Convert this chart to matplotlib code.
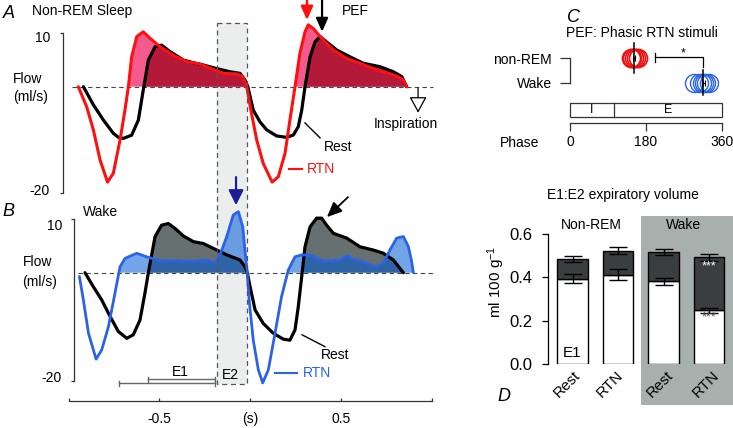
import numpy as np
import matplotlib
matplotlib.use('Agg')
import matplotlib.pyplot as plt
from matplotlib.patches import Rectangle
from matplotlib import transforms as mtrans

plt.rcParams['font.family'] = ['Liberation Sans', 'DejaVu Sans']
plt.rcParams['mathtext.default'] = 'regular'

W, H = 733, 428

# ---------------- data ----------------
# Panel A: non-REM sleep airflow (time s, flow ml/s)
a_rest_t = [-0.918, -0.863, -0.808, -0.753, -0.725, -0.698, -0.652, -0.615, -0.588, -0.56, -0.523, -0.487,
            -0.441, -0.367, -0.312, -0.257, -0.184, -0.11, -0.055, -0.028, -0.012, 0.018, 0.055, 0.092,
            0.147, 0.202, 0.239, 0.266, 0.285, 0.303, 0.331, 0.358, 0.386, 0.422, 0.477, 0.551, 0.624,
            0.716, 0.79, 0.836, 0.863]
a_rest_f = [0.0, -3.4, -6.25, -8.75, -9.5, -9.7, -9.1, -6.25, -0.6, 5.0, 7.5, 7.8,
            6.6, 5.0, 4.5, 4.07, 3.4, 2.8, 2.5, 1.25, 0.0, -4.4, -6.6, -8.1,
            -9.25, -9.5, -9.06, -7.5, -4.4, 0.0, 5.6, 8.4, 9.4, 8.4, 6.9, 5.6, 4.4,
            3.75, 2.8, 1.9, 0.0]
a_rtn_t = [-0.946, -0.9, -0.863, -0.826, -0.785, -0.753, -0.716, -0.689, -0.67, -0.652, -0.624, -0.588,
           -0.551, -0.496, -0.422, -0.349, -0.275, -0.202, -0.147, -0.073, -0.04, -0.018, 0.005, 0.037,
           0.073, 0.122, 0.156, 0.193, 0.22, 0.248, 0.275, 0.303, 0.321, 0.349, 0.395, 0.459, 0.533,
           0.606, 0.679, 0.753, 0.808, 0.845, 0.863]
a_rtn_f = [0.0, -3.75, -8.1, -13.75, -17.9, -16.25, -10.0, -4.4, 0.0, 5.6, 9.4, 10.3,
           9.1, 7.5, 5.9, 4.7, 4.25, 3.25, 2.5, 2.4, 1.9, 0.0, -4.4, -10.0,
           -14.4, -17.9, -16.9, -12.5, -6.25, 0.0, 6.25, 10.3, 11.6, 10.9, 9.1, 6.9, 5.3,
           4.4, 3.4, 2.6, 2.0, 1.25, 0.0]
# Panel B: wakefulness airflow
b_rest_t = [-0.909, -0.863, -0.817, -0.771, -0.725, -0.679, -0.643, -0.606, -0.579, -0.56, -0.523, -0.487,
            -0.45, -0.413, -0.367, -0.312, -0.257, -0.202, -0.128, -0.055, -0.028, -0.015, 0.0, 0.028,
            0.073, 0.128, 0.183, 0.22, 0.248, 0.266, 0.285, 0.303, 0.331, 0.367, 0.395, 0.422, 0.459,
            0.533, 0.606, 0.679, 0.735, 0.79, 0.826, 0.845]
b_rest_f = [0.0, -2.6, -5.05, -8.1, -10.9, -12.15, -11.5, -8.75, -3.8, 0.0, 6.7, 8.8,
            9.1, 8.2, 6.8, 5.75, 5.4, 4.5, 3.3, 2.35, 1.1, 0.0, -2.5, -6.9,
            -9.4, -11.2, -12.3, -12.5, -10.6, -6.3, -0.7, 4.8, 8.5, 10.1, 10.1, 8.8, 7.3,
            6.4, 4.8, 4.2, 3.6, 2.35, 0.8, 0.0]
b_rtn_t = [-0.94, -0.918, -0.89, -0.848, -0.817, -0.78, -0.744, -0.716, -0.689, -0.624, -0.57, -0.496,
           -0.404, -0.312, -0.239, -0.193, -0.165, -0.128, -0.092, -0.064, -0.04, -0.028, -0.015, -0.005,
           0.018, 0.046, 0.07, 0.101, 0.138, 0.174, 0.211, 0.248, 0.285, 0.331, 0.367, 0.404, 0.459,
           0.496, 0.523, 0.541, 0.569, 0.615, 0.661, 0.698, 0.735, 0.771, 0.808, 0.845, 0.873, 0.891, 0.9]
b_rtn_f = [-0.7, -5.05, -11.2, -16.0, -14.3, -10.0, -3.8, 1.1, 2.65, 3.6, 2.95, 2.2,
           2.2, 2.1, 2.35, 1.85, 3.3, 6.7, 10.7, 11.3, 8.5, 4.2, 0.0, -5.0,
           -12.5, -18.0, -20.4, -18.0, -11.2, -4.4, 0.5, 2.95, 3.3, 3.3, 2.65, 2.2, 2.2,
           2.35, 2.95, 3.1, 2.35, 2.2, 1.4, 1.0, 1.75, 4.2, 6.4, 6.7, 4.8, 2.0, 0.0]
e2_window = [-0.18, -0.015]          # E2 shaded window (s)
e1_bars = [(-0.564, -0.193), (-0.72, -0.193)]

# Panel C: phase of PEF during phasic RTN stimuli (deg)
phase_nrem = [144, 148, 152, 156, 161]
phase_wake = [294, 305, 312, 318, 322, 329]
mean_nrem, sem_nrem = 152, 3
mean_wake, sem_wake = 316, 3
insp_end = 104
sig_span = [201, 315]

# Panel D: E1:E2 expiratory volume (ml 100 g^-1)
d_labels = ['Rest', 'RTN', 'Rest', 'RTN']
e1_mean = [0.393, 0.413, 0.381, 0.247]
e1_sem = [0.021, 0.027, 0.018, 0.010]
tot_mean = [0.485, 0.523, 0.518, 0.492]
tot_sem = [0.012, 0.015, 0.015, 0.016]

# ---------------- figure ----------------
fig = plt.figure(figsize=(W / 100, H / 100), dpi=100)
T_pix = mtrans.Affine2D().scale(1 / W, -1 / H).translate(0, 1) + fig.transFigure


def rect(x0, y0, x1, y1):
    return [x0 / W, 1 - y1 / H, (x1 - x0) / W, (y1 - y0) / H]


def ptext(x, y, s, **kw):
    kw.setdefault('fontsize', 10)
    kw.setdefault('ha', 'center')
    kw.setdefault('va', 'center')
    return fig.text(x, y, s, transform=T_pix, **kw)


T0, T1 = (0 - 250) / 181.5, (440 - 250) / 181.5


def setup_trace_ax(ax, spine_x):
    ax.patch.set_visible(False)
    ax.set_xlim(T0, T1)
    for s in ['top', 'right', 'bottom']:
        ax.spines[s].set_visible(False)
    ax.spines['left'].set_position(('data', spine_x))
    ax.spines['left'].set_bounds(-20, 10)
    ax.spines['left'].set_linewidth(0.9)
    ax.spines['left'].set_color('#333333')
    ax.set_yticks([-20, 10])
    ax.set_yticklabels(['', ''])
    ax.tick_params(axis='y', length=2.5, width=0.9, color='#333333')
    ax.set_xticks([])


axA = fig.add_axes(rect(0, 0, 440, 200))
axA.set_ylim(-(200 - 86.7) / 5.33, 86.7 / 5.33)
setup_trace_ax(axA, -1.03)
axB = fig.add_axes(rect(0, 195, 440, 395))
axB.set_ylim(-(395 - 272.7) / 5.4, (272.7 - 195) / 5.4)
setup_trace_ax(axB, -0.967)

# shaded E2 window spanning A and B
bt = mtrans.blended_transform_factory(axA.transData, T_pix)
fig.patches.append(Rectangle((e2_window[0], 23), e2_window[1] - e2_window[0], 361,
                             transform=bt, facecolor='#eceeee', edgecolor='none', zorder=-1))
fig.patches.append(Rectangle((e2_window[0], 23), e2_window[1] - e2_window[0], 361,
                             transform=bt, facecolor='none', edgecolor='#555555',
                             linestyle=(0, (4, 3)), lw=0.9, zorder=3))

# Panel A traces
at_r, af_r = np.array(a_rtn_t), np.array(a_rtn_f)
at_k, af_k = np.array(a_rest_t), np.array(a_rest_f)
axA.axhline(0, xmin=(-0.98 - T0) / (T1 - T0), xmax=(1.01 - T0) / (T1 - T0), color='#444444',
            lw=0.8, ls=(0, (4, 3)), zorder=1)
axA.fill_between(at_r, af_r, 0, where=af_r >= 0, interpolate=True, color='#f55a8c', lw=0, zorder=2)
axA.fill_between(at_k, af_k, 0, where=af_k >= 0, interpolate=True, color='#b4193a', lw=0, zorder=3)
axA.plot(at_k, af_k, color='black', lw=2.3, solid_capstyle='round', solid_joinstyle='round', zorder=4)
axA.plot(at_r, af_r, color='#ff1010', lw=2.2, solid_capstyle='round', solid_joinstyle='round', zorder=5)

# Panel B traces
bt_b, bf_b = np.array(b_rtn_t), np.array(b_rtn_f)
bt_k, bf_k = np.array(b_rest_t), np.array(b_rest_f)
axB.axhline(0, xmin=(-0.95 - T0) / (T1 - T0), xmax=(1.01 - T0) / (T1 - T0), color='#444444',
            lw=0.8, ls=(0, (4, 3)), zorder=1)
axB.fill_between(bt_k, bf_k, 0, where=bf_k >= 0, interpolate=True, color='#677070', lw=0, zorder=2)
axB.fill_between(bt_b, bf_b, 0, where=bf_b >= 0, interpolate=True, color=(0.0, 0.35, 0.83),
                 alpha=0.55, lw=0, zorder=3)
axB.plot(bt_k, bf_k, color='black', lw=2.3, solid_capstyle='round', solid_joinstyle='round', zorder=4)
axB.plot(bt_b, bf_b, color='#2a62e8', lw=2.0, solid_capstyle='round', solid_joinstyle='round', zorder=5)

# E1 / E2 brackets
for (x0, x1), y in zip(e1_bars, [-19.7, -20.5]):
    axB.plot([x0, x1], [y, y], color='#666666', lw=1.0, clip_on=False)
    for xx in (x0, x1):
        axB.plot([xx, xx], [y - 0.45, y + 0.45], color='#666666', lw=1.0, clip_on=False)
axB.text(-0.386, -18.3, 'E1', fontsize=10, ha='center', va='center')
axB.text(-0.106, -18.9, 'E2', fontsize=10, ha='center', va='center')

# arrows
axA.annotate('', xy=(0.314, 12.5), xytext=(0.314, 16.3), annotation_clip=False,
             arrowprops=dict(arrowstyle='-|>,head_length=0.45,head_width=0.2', color='#ff1010',
                             lw=1.8, shrinkA=0, shrinkB=0, mutation_scale=18))
axA.annotate('', xy=(0.397, 10.3), xytext=(0.397, 16.3), annotation_clip=False,
             arrowprops=dict(arrowstyle='-|>,head_length=0.45,head_width=0.2', color='black',
                             lw=1.6, shrinkA=0, shrinkB=0, mutation_scale=18))
axA.annotate('', xy=(0.926, -4.9), xytext=(0.926, -0.3), annotation_clip=False,
             arrowprops=dict(arrowstyle='-|>,head_length=0.55,head_width=0.3', facecolor='white',
                             edgecolor='black', lw=0.9, shrinkA=0, shrinkB=0, mutation_scale=18))
axB.annotate('', xy=(-0.077, 12.5), xytext=(-0.077, 17.7), annotation_clip=False,
             arrowprops=dict(arrowstyle='-|>,head_length=0.5,head_width=0.25', color='#1a1f96',
                             lw=1.6, shrinkA=0, shrinkB=0, mutation_scale=18))
axB.annotate('', xy=(0.424, 10.3), xytext=(0.54, 14.0), annotation_clip=False,
             arrowprops=dict(arrowstyle='-|>,head_length=0.5,head_width=0.22', color='black',
                             lw=1.3, shrinkA=0, shrinkB=0, mutation_scale=18))

# leader lines and labels
axA.plot([0.303, 0.386], [-6.8, -9.6], color='black', lw=1.0)
axB.plot([0.287, 0.413], [-11.5, -13.7], color='black', lw=1.0)
ptext(338, 147, 'Rest')
ptext(335, 355, 'Rest')
fig.lines.append(plt.Line2D([289 / W, 302 / W], [1 - 169 / H, 1 - 169 / H], color='#ff1010', lw=1.5,
                            transform=fig.transFigure))
ptext(307, 169, 'RTN', ha='left', color='#ff1010')
fig.lines.append(plt.Line2D([275 / W, 297 / W], [1 - 373 / H, 1 - 373 / H], color='#2a62e8', lw=1.5,
                            transform=fig.transFigure))
ptext(303, 373, 'RTN', ha='left', color='#2a62e8')
ptext(406, 124, 'Inspiration')
ptext(342, 11, 'PEF', ha='left')
ptext(32, 11, 'Non-REM Sleep', ha='left')
ptext(83, 212, 'Wake', ha='left')
ptext(3, 13, 'A', ha='left', fontsize=13, style='italic')
ptext(2, 212, 'B', ha='left', fontsize=13, style='italic')
ptext(28, 79, 'Flow')
ptext(31, 97, '(ml/s)')
ptext(38, 262, 'Flow')
ptext(40, 282, '(ml/s)')
ptext(50, 38, '10', ha='right')
ptext(50, 191, '-20', ha='right')
ptext(62, 226, '10', ha='right')
ptext(62, 378, '-20', ha='right')

# shared time axis
axX = fig.add_axes(rect(0, 380, 440, 401))
axX.patch.set_visible(False)
axX.set_xlim(T0, T1)
for s in ['top', 'right', 'left']:
    axX.spines[s].set_visible(False)
axX.spines['bottom'].set_bounds(-1, 1)
axX.spines['bottom'].set_linewidth(0.9)
axX.spines['bottom'].set_color('#333333')
axX.set_yticks([])
axX.set_xticks([-1, -0.5, 0, 0.5, 1])
axX.set_xticklabels(['', '-0.5', '(s)', '0.5', ''], fontsize=10)
axX.tick_params(axis='x', direction='in', length=2.5, width=0.9, color='#333333', pad=8)

# ---------------- Panel C ----------------
pp = 152 / 360.0
axC = fig.add_axes(rect(560, 40, 733, 130))
axC.patch.set_visible(False)
axC.set_xlim(-10 / pp, 163 / pp)
axC.set_ylim(-(130 - 83) / 25, 1 + (58 - 40) / 25)
axC.spines['top'].set_visible(False)
axC.spines['right'].set_visible(False)
axC.spines['left'].set_position(('data', 0))
axC.spines['left'].set_bounds(0, 1)
axC.spines['bottom'].set_position(('data', -1.6))
axC.spines['bottom'].set_bounds(0, 360)
for s in ['left', 'bottom']:
    axC.spines[s].set_linewidth(0.9)
    axC.spines[s].set_color('#333333')
axC.set_yticks([0, 1])
axC.set_yticklabels(['Wake', 'non-REM'], fontsize=10)
axC.set_xticks([0, 180, 360])
axC.set_xticklabels(['0', '180', '360'], fontsize=10)
axC.tick_params(axis='y', length=7, width=0.9, color='#333333', pad=6)
axC.tick_params(axis='x', length=6, width=0.9, color='#333333', pad=3)
axC.plot(phase_nrem, [1] * len(phase_nrem), 'o', mfc='none', mec='#ee1111', ms=13, mew=1.2,
         clip_on=False)
axC.plot(phase_wake, [0] * len(phase_wake), 'o', mfc='none', mec='#2a62e8', ms=13, mew=1.0,
         clip_on=False)
axC.plot([mean_nrem, mean_nrem], [0.4, 1.6], color='black', lw=1.1)
axC.plot([mean_wake, mean_wake], [-0.48, 0.52], color='black', lw=1.1)
axC.errorbar([mean_nrem], [1], xerr=[sem_nrem], fmt='none', ecolor='black', elinewidth=0.8,
             capsize=2.5, capthick=0.8)
axC.errorbar([mean_wake], [0], xerr=[sem_wake], fmt='none', ecolor='black', elinewidth=0.8,
             capsize=2.5, capthick=0.8)
axC.plot([sig_span[0], sig_span[0]], [0.84, 1.2], color='black', lw=0.9)
axC.plot([sig_span[0], sig_span[1], sig_span[1]], [1.04, 1.04, 0.64], color='black', lw=0.9)
axC.text((sig_span[0] + sig_span[1]) / 2 + 10, 1.2, '*', ha='center', va='center', fontsize=9)
axC.add_patch(Rectangle((0, -1.36), 360, 0.56, facecolor='white', edgecolor='#333333', lw=0.9))
axC.plot([insp_end, insp_end], [-1.36, -0.8], color='#333333', lw=0.9)
axC.text(insp_end / 2, -1.08, 'I', ha='center', va='center', fontsize=9)
axC.text((insp_end + 360) / 2, -1.08, 'E', ha='center', va='center', fontsize=9)
ptext(642, 33, 'PEF: Phasic RTN stimuli')
ptext(520, 143, 'Phase')
ptext(567, 18, 'C', ha='left', fontsize=13, style='italic')

# ---------------- Panel D ----------------
fig.patches.append(Rectangle((641, 216), 94, 189, transform=T_pix, facecolor='#a8b0ae',
                             edgecolor='none', zorder=-1))
axD = fig.add_axes(rect(548, 234, 733, 364))
axD.patch.set_visible(False)
axD.set_xlim(-24.5 / 45.5, 3 + 24 / 45.5)
axD.set_ylim(0, 0.6)
for s in ['top', 'right', 'bottom']:
    axD.spines[s].set_visible(False)
axD.spines['left'].set_linewidth(0.9)
axD.set_yticks([0, 0.2, 0.4, 0.6])
axD.set_yticklabels(['0.0', '0.2', '0.4', '0.6'], fontsize=12)
axD.tick_params(axis='y', length=4, width=0.9, pad=7)
axD.set_xticks([])
xs = np.arange(len(d_labels))
e1 = np.array(e1_mean)
e2 = np.array(tot_mean) - e1
axD.bar(xs, e1, width=0.68, color='white', edgecolor='black', lw=1.0, zorder=2)
axD.bar(xs, e2, bottom=e1, width=0.68, color='#3b3e3e', edgecolor='black', lw=1.0, zorder=2)
axD.errorbar(xs, e1, yerr=e1_sem, fmt='none', ecolor='black', elinewidth=1.0, capsize=6.5,
             capthick=1.0, zorder=3)
axD.errorbar(xs, tot_mean, yerr=tot_sem, fmt='none', ecolor='black', elinewidth=1.0, capsize=6.5,
             capthick=1.0, zorder=3)
dt = mtrans.blended_transform_factory(axD.transData, T_pix)
for i, (lab, dx) in enumerate(zip(d_labels, [-0.12, -0.18, -0.08, -0.07])):
    axD.text(i + dx, 384, lab, transform=dt, rotation=45, ha='center', va='center',
             rotation_mode='anchor', fontsize=11)
axD.text(0, 0.05, 'E1', ha='center', va='center', fontsize=11)
axD.text(3, 0.45, '***', ha='center', va='center', fontsize=9, color='white')
axD.text(3, 0.215, '***', ha='center', va='center', fontsize=9, color='#555555')
ptext(591, 225, 'Non-REM', fontsize=10)
ptext(683, 225, 'Wake', fontsize=10)
ptext(623, 195, 'E1:E2 expiratory volume')
ptext(496, 282, 'ml 100 g$^{-1}$', rotation=90, fontsize=11)
ptext(497, 397, 'D', ha='left', fontsize=13, style='italic')

fig.savefig('out.png', dpi=100)
